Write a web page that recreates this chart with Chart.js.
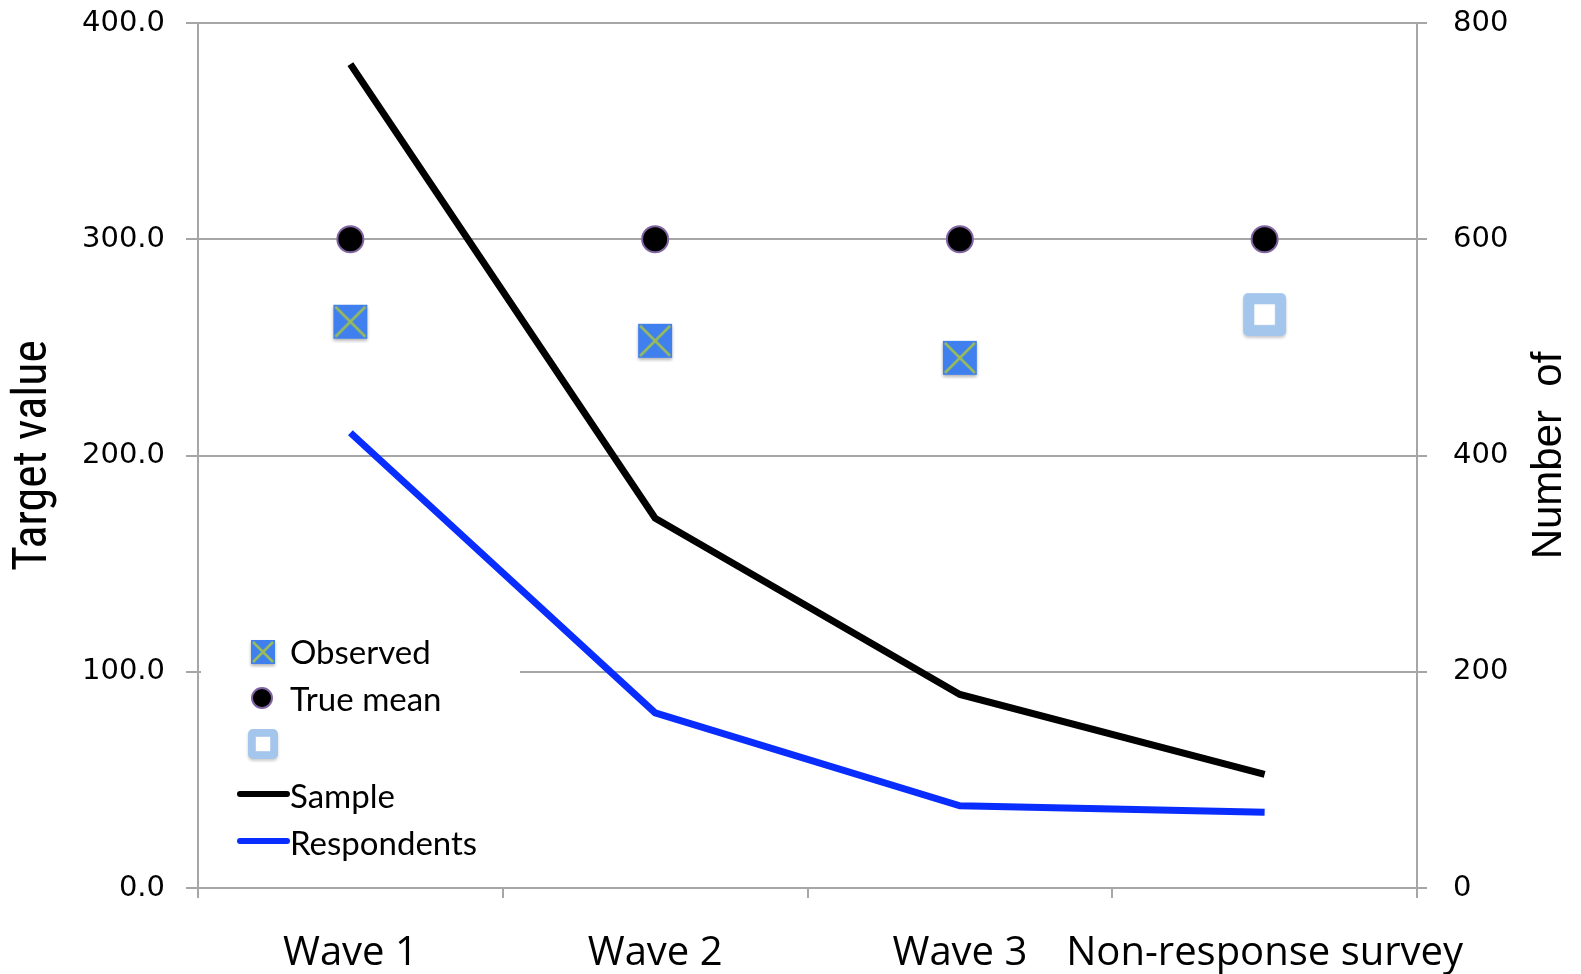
<!DOCTYPE html>
<html>
<head>
<meta charset="utf-8">
<script src="https://cdn.jsdelivr.net/npm/chart.js@4/dist/chart.umd.min.js"></script>
<style>
  html, body { margin: 0; padding: 0; background: #fff; overflow: hidden; }
  canvas { display: block; }
</style>
</head>
<body>
<canvas id="grafica" width="1581" height="974" style="width:1581px;height:974px"></canvas>
<script>
// datos
const categorias = ['Wave 1', 'Wave 2', 'Wave 3', 'Non-response survey'];
const observado = [261.4, 252.6, 244.7, null];
const mediaReal = [300, 300, 300, 300];
const noRespuesta = [null, null, null, 264.7];
const muestra = [762, 342, 179, 105];
const encuestados = [421, 162, 76, 70];
const ticksIzq = [0, 100, 200, 300, 400];
const ticksDer = [0, 200, 400, 600, 800];

const gris = '#a6a6a6';

// marcador: cuadro azul con aspa verde
function marcaObservado(s) {
  const c = document.createElement('canvas');
  c.width = s + 6; c.height = s + 6;
  const g = c.getContext('2d');
  g.shadowColor = 'rgba(0,0,0,0.3)';
  g.shadowBlur = 3;
  g.shadowOffsetY = 2;
  g.fillStyle = '#3f80ee';
  g.fillRect(3, 2, s, s);
  g.shadowColor = 'transparent';
  g.strokeStyle = '#9bbb59';
  g.lineWidth = 2.5;
  g.beginPath();
  g.moveTo(5, 4); g.lineTo(s + 1, s);
  g.moveTo(s + 1, 4); g.lineTo(5, s);
  g.stroke();
  return c;
}

// marcador: cuadro hueco azul claro
function marcaHueca(s) {
  const c = document.createElement('canvas');
  c.width = s + 6; c.height = s + 6;
  const g = c.getContext('2d');
  g.shadowColor = 'rgba(0,0,0,0.2)';
  g.shadowBlur = 3;
  g.shadowOffsetY = 2;
  g.fillStyle = '#a4c6ec';
  g.beginPath();
  g.roundRect(3, 2, s, s, 5);
  g.fill();
  g.shadowColor = 'transparent';
  g.fillStyle = '#fff';
  const b = s * 0.26;
  g.fillRect(3 + b, 2 + b, s - 2 * b, s - 2 * b);
  return c;
}

const imgObs = marcaObservado(34);
const imgHueca = marcaHueca(43);
const imgObsLey = marcaObservado(24);
const imgHuecaLey = marcaHueca(30);

// leyenda dentro del area del grafico + titulo derecho
const leyenda = {
  id: 'leyenda',
  afterDraw(chart) {
    const ctx = chart.ctx;
    const a = chart.chartArea;
    const x0 = a.left + 3, y0 = a.bottom - 264;
    ctx.save();
    ctx.fillStyle = '#fff';
    ctx.fillRect(x0, y0, 319, 244);
    ctx.font = '33px Lato, "Open Sans", sans-serif';
    ctx.fillStyle = '#000';
    ctx.textBaseline = 'middle';
    const tx = a.left + 92;
    const filas = [a.bottom - 237, a.bottom - 190, a.bottom - 145, a.bottom - 94, a.bottom - 47];
    ctx.drawImage(imgObsLey, a.left + 50, filas[0] - 13);
    ctx.fillText('Observed', tx, filas[0] + 2);
    ctx.beginPath();
    ctx.arc(a.left + 64, filas[1], 10, 0, Math.PI * 2);
    ctx.fillStyle = '#000';
    ctx.fill();
    ctx.lineWidth = 2;
    ctx.strokeStyle = '#8064a2';
    ctx.stroke();
    ctx.fillText('True mean', tx, filas[1] + 2);
    ctx.drawImage(imgHuecaLey, a.left + 47, filas[2] - 16);
    ctx.lineCap = 'round';
    ctx.lineWidth = 6;
    ctx.strokeStyle = '#000';
    ctx.beginPath(); ctx.moveTo(a.left + 42, filas[3]); ctx.lineTo(a.left + 89, filas[3]); ctx.stroke();
    ctx.fillText('Sample', tx, filas[3] + 3);
    ctx.strokeStyle = '#0a2dff';
    ctx.beginPath(); ctx.moveTo(a.left + 42, filas[4]); ctx.lineTo(a.left + 89, filas[4]); ctx.stroke();
    ctx.fillText('Respondents', tx, filas[4] + 3);

    // titulo del eje derecho, leido de abajo hacia arriba
    ctx.translate(chart.width - 32, (a.top + a.bottom) / 2);
    ctx.rotate(-Math.PI / 2);
    ctx.font = '42px "Liberation Sans", Arial, sans-serif';
    ctx.textAlign = 'center';
    ctx.textBaseline = 'middle';
    ctx.fillStyle = '#000';
    ctx.fillText('Number  of', 0, 0);
    ctx.restore();
  }
};

function sinRelleno(s) {
  s.paddingTop = 0; s.paddingBottom = 0; s.paddingLeft = 0; s.paddingRight = 0;
}

const ctxGrafica = document.getElementById('grafica').getContext('2d');
new Chart(ctxGrafica, {
  type: 'line',
  data: {
    labels: categorias,
    datasets: [
      { label: 'Observed', data: observado, yAxisID: 'y', showLine: false,
        pointStyle: imgObs, pointRadius: 17, order: 1 },
      { label: 'True mean', data: mediaReal, yAxisID: 'y', showLine: false,
        pointStyle: 'circle', pointRadius: 13, backgroundColor: '#000',
        borderColor: '#8064a2', pointBorderWidth: 2, order: 1 },
      { label: '', data: noRespuesta, yAxisID: 'y', showLine: false,
        pointStyle: imgHueca, pointRadius: 22, order: 1 },
      { label: 'Sample', data: muestra, yAxisID: 'y2', borderColor: '#000',
        borderWidth: 7, pointRadius: 0, tension: 0, order: 2 },
      { label: 'Respondents', data: encuestados, yAxisID: 'y2', borderColor: '#0a2dff',
        borderWidth: 7, pointRadius: 0, tension: 0, order: 2 }
    ]
  },
  options: {
    responsive: false,
    animation: false,
    devicePixelRatio: 1,
    layout: { padding: { top: 19, left: 0, right: 0, bottom: 0 } },
    plugins: { legend: { display: false }, tooltip: { enabled: false } },
    scales: {
      x: {
        offset: true,
        grid: { offset: true, drawOnChartArea: false, drawTicks: true, tickLength: 10, color: gris, lineWidth: 2 },
        border: { color: gris, width: 2 },
        ticks: { padding: 32, color: '#000', autoSkip: false, maxRotation: 0, minRotation: 0,
          font: { family: '"Open Sans", sans-serif', size: 40 } },
        afterFit(s) { s.height = 86; sinRelleno(s); }
      },
      y: {
        position: 'left',
        min: 0, max: 400,
        afterBuildTicks(s) { s.ticks = ticksIzq.map(v => ({ value: v })); },
        grid: { color: gris, lineWidth: 2, tickLength: 12 },
        border: { color: gris, width: 2 },
        ticks: { padding: 21, color: '#000', font: { family: '"DejaVu Sans", sans-serif', size: 29 },
          callback: v => v.toFixed(1) },
        title: { display: true, text: 'Target value', color: '#000', padding: { top: 5, bottom: 0 },
          font: { family: '"Liberation Sans Narrow", "Roboto Condensed", sans-serif', size: 48 } },
        afterFit(s) { s.width = 198; sinRelleno(s); }
      },
      y2: {
        position: 'right',
        min: 0, max: 800,
        afterBuildTicks(s) { s.ticks = ticksDer.map(v => ({ value: v })); },
        grid: { drawOnChartArea: false, color: gris, lineWidth: 2, tickLength: 10 },
        border: { color: gris, width: 2 },
        ticks: { padding: 26, color: '#000', font: { family: '"DejaVu Sans", sans-serif', size: 29 } },
        afterFit(s) { s.width = 164; sinRelleno(s); }
      }
    }
  },
  plugins: [leyenda]
});
</script>
</body>
</html>
